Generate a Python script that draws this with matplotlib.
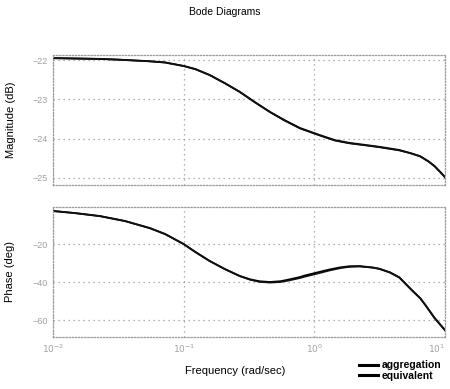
import matplotlib
matplotlib.use("Agg")
import matplotlib.pyplot as plt
from matplotlib.lines import Line2D

plt.rcParams['font.family'] = ['Liberation Sans', 'DejaVu Sans']

# frequency (rad/sec)
freq = [0.01, 0.0229, 0.0324, 0.0550, 0.0719, 0.1, 0.123, 0.158, 0.207, 0.269,
        0.350, 0.457, 0.592, 0.776, 1.10, 1.44, 1.86, 2.44, 3.16, 4.47, 5.45,
        6.46, 7.48, 8.32, 9.2, 10.0]
# magnitude (dB)
mag_aggregation = [-21.95, -21.97, -21.99, -22.03, -22.06, -22.15, -22.23, -22.38,
                   -22.59, -22.81, -23.07, -23.32, -23.53, -23.73, -23.91, -24.04,
                   -24.11, -24.16, -24.21, -24.29, -24.37, -24.45, -24.58, -24.70,
                   -24.85, -24.98]
mag_equivalent = [-21.95, -21.97, -21.99, -22.03, -22.06, -22.15, -22.23, -22.38,
                  -22.59, -22.81, -23.07, -23.32, -23.54, -23.74, -23.92, -24.05,
                  -24.12, -24.17, -24.22, -24.30, -24.37, -24.45, -24.58, -24.70,
                  -24.85, -24.98]

freq_p = [0.01, 0.0147, 0.0229, 0.0356, 0.0550, 0.0719, 0.1, 0.123, 0.158, 0.207,
          0.269, 0.323, 0.380, 0.457, 0.550, 0.648, 0.776, 0.844, 1.05, 1.31,
          1.58, 1.86, 2.22, 2.82, 3.16, 3.80, 4.47, 5.62, 6.46, 7.08, 8.32, 10.0]
# phase (deg)
phase_aggregation = [-2.6, -3.7, -5.3, -7.9, -11.6, -14.7, -20.0, -24.2, -28.9,
                     -33.2, -36.8, -38.6, -39.6, -40.0, -39.6, -38.6, -37.4, -36.6,
                     -35.0, -33.4, -32.3, -31.7, -31.6, -32.4, -33.1, -35.0, -37.6,
                     -44.5, -48.5, -52.1, -58.9, -65.3]
phase_equivalent = [-2.6, -3.7, -5.3, -7.9, -11.6, -14.7, -20.0, -24.2, -28.9,
                    -33.2, -36.9, -38.8, -39.9, -40.3, -40.0, -39.1, -37.9, -37.2,
                    -35.6, -33.9, -32.7, -32.0, -31.8, -32.4, -33.0, -34.9, -37.5,
                    -44.5, -48.5, -52.1, -58.9, -65.3]

mag_ticks = [-22, -23, -24, -25]
phase_ticks = [-20, -40, -60]
x_ticks = [0.01, 0.1, 1, 10]
x_ticklabels = [r'$10^{-2}$', r'$10^{-1}$', r'$10^{0}$', r'$10^{1}$']
series_names = ['aggregation', 'equivalent']

W, H = 450, 389
fig = plt.figure(figsize=(W / 100, H / 100), dpi=100)
left, right = 53 / W, 445 / W
ax1 = fig.add_axes([left, 1 - 185 / H, right - left, 130 / H])
ax2 = fig.add_axes([left, 1 - 337 / H, right - left, 130 / H])

grey = '#9a9a9a'
for ax in (ax1, ax2):
    ax.set_xscale('log')
    ax.set_xlim(0.01, 10)
    ax.set_xticks(x_ticks)
    ax.minorticks_off()
    ax.grid(True, color=grey, linestyle=(0, (1, 3)), linewidth=0.9)
    for s in ax.spines.values():
        s.set_color(grey)
        s.set_linestyle((0, (1, 1.5)))
        s.set_linewidth(0.9)
    ax.tick_params(length=0, labelsize=6.5, labelcolor='#a0a0a0', pad=4)

ax1.plot(freq, mag_aggregation, color='black', lw=1.4)
ax1.plot(freq, mag_equivalent, color='#111111', lw=1.2)
ax1.set_ylim(-25.18, -21.87)
ax1.set_yticks(mag_ticks)
ax1.set_xticklabels([])
ax1.set_ylabel('Magnitude (dB)', fontsize=8, labelpad=12)

ax2.plot(freq_p, phase_aggregation, color='black', lw=1.4)
ax2.plot(freq_p, phase_equivalent, color='#111111', lw=1.2)
ax2.set_ylim(-68.9, -0.5)
ax2.set_yticks(phase_ticks)
ax2.set_xticklabels(x_ticklabels)
ax2.get_xticklabels()[-1].set_horizontalalignment('right')
ax2.set_ylabel('Phase (deg)', fontsize=8, labelpad=12)

fig.text(225 / W, 1 - 12 / H, 'Bode Diagrams', ha='center', va='center', fontsize=7.5)
fig.text(235 / W, 1 - 371 / H, 'Frequency (rad/sec)', ha='center', va='center', fontsize=8)

handles = [Line2D([0], [0], color='black', lw=2.2) for _ in series_names]
fig.legend(handles, series_names, loc='lower right', bbox_to_anchor=(450 / W, 0 / H),
           frameon=False, handlelength=1.8, handletextpad=0.4, borderpad=0.3,
           labelspacing=0.05, prop={'weight': 'bold', 'size': 7.5})

fig.savefig('out.png', dpi=100)
